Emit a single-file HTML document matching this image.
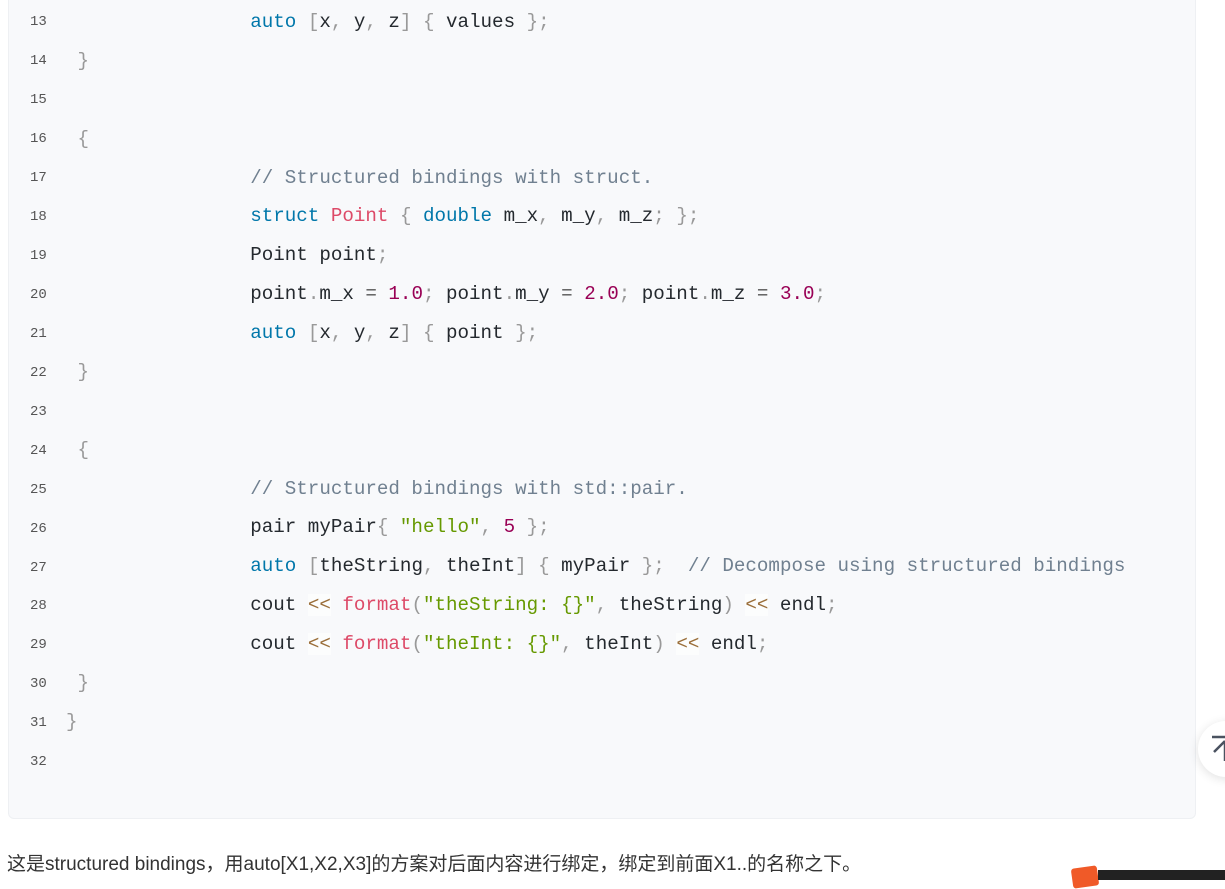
<!DOCTYPE html>
<html><head><meta charset="utf-8"><style>
body{margin:0;width:1225px;height:876px;overflow:hidden;background:#fff;position:relative;font-family:"Liberation Sans","Noto Sans CJK SC",sans-serif}
.blk{position:absolute;left:8px;top:-10px;width:1186px;height:827px;background:#f8f9fb;border:1px solid #eef0f3;border-radius:6px}
.ln{position:absolute;left:30px;font:14px "Liberation Mono",monospace;color:#555;margin-top:1px}
.cd{position:absolute;left:66px;font:19.2px "Liberation Mono",monospace;color:#24292e;white-space:pre;margin-top:2px}
.k{color:#0077aa}.p{color:#999}.r{color:#dd4a68}.n{color:#990055}.s{color:#669900}.c{color:#708090}.o{color:#9a6e3a;background:rgba(255,255,255,.6)}.e{color:#555}
.txt{position:absolute;left:7px;top:849px;font-size:19px;color:#333;white-space:nowrap}
.btn{position:absolute;left:1198px;top:721px;width:56px;height:56px;border-radius:50%;background:#fff;box-shadow:0 2px 10px rgba(0,0,0,.12)}
</style></head><body>
<div class="blk"></div>
<div class="btn"><svg width="30" height="30" style="position:absolute;left:12px;top:14px"><path d="M2 2H28M15 6V26M15 6L4 17" stroke="#4a5260" stroke-width="2.5" fill="none"/></svg></div>
<div class="ln" style="top:13px">13</div><div class="cd" style="top:9px">                <span class="k">auto</span> <span class="p">[</span>x<span class="p">,</span> y<span class="p">,</span> z<span class="p">]</span> <span class="p">{</span> values <span class="p">};</span></div>
<div class="ln" style="top:52px">14</div><div class="cd" style="top:48px"> <span class="p">}</span></div>
<div class="ln" style="top:91px">15</div>
<div class="ln" style="top:130px">16</div><div class="cd" style="top:126px"> <span class="p">{</span></div>
<div class="ln" style="top:169px">17</div><div class="cd" style="top:165px">                <span class="c">// Structured bindings with struct.</span></div>
<div class="ln" style="top:208px">18</div><div class="cd" style="top:203px">                <span class="k">struct</span> <span class="r">Point</span> <span class="p">{</span> <span class="k">double</span> m_x<span class="p">,</span> m_y<span class="p">,</span> m_z<span class="p">;</span> <span class="p">};</span></div>
<div class="ln" style="top:247px">19</div><div class="cd" style="top:242px">                Point point<span class="p">;</span></div>
<div class="ln" style="top:286px">20</div><div class="cd" style="top:281px">                point<span class="p">.</span>m_x <span class="e">=</span> <span class="n">1.0</span><span class="p">;</span> point<span class="p">.</span>m_y <span class="e">=</span> <span class="n">2.0</span><span class="p">;</span> point<span class="p">.</span>m_z <span class="e">=</span> <span class="n">3.0</span><span class="p">;</span></div>
<div class="ln" style="top:325px">21</div><div class="cd" style="top:320px">                <span class="k">auto</span> <span class="p">[</span>x<span class="p">,</span> y<span class="p">,</span> z<span class="p">]</span> <span class="p">{</span> point <span class="p">};</span></div>
<div class="ln" style="top:364px">22</div><div class="cd" style="top:359px"> <span class="p">}</span></div>
<div class="ln" style="top:403px">23</div>
<div class="ln" style="top:442px">24</div><div class="cd" style="top:437px"> <span class="p">{</span></div>
<div class="ln" style="top:481px">25</div><div class="cd" style="top:476px">                <span class="c">// Structured bindings with std::pair.</span></div>
<div class="ln" style="top:520px">26</div><div class="cd" style="top:514px">                pair myPair<span class="p">{</span> <span class="s">"hello"</span><span class="p">,</span> <span class="n">5</span> <span class="p">};</span></div>
<div class="ln" style="top:559px">27</div><div class="cd" style="top:553px">                <span class="k">auto</span> <span class="p">[</span>theString<span class="p">,</span> theInt<span class="p">]</span> <span class="p">{</span> myPair <span class="p">};</span>  <span class="c">// Decompose using structured bindings</span></div>
<div class="ln" style="top:597px">28</div><div class="cd" style="top:592px">                cout <span class="o">&lt;&lt;</span> <span class="r">format</span><span class="p">(</span><span class="s">"theString: {}"</span><span class="p">,</span> theString<span class="p">)</span> <span class="o">&lt;&lt;</span> endl<span class="p">;</span></div>
<div class="ln" style="top:636px">29</div><div class="cd" style="top:631px">                cout <span class="o">&lt;&lt;</span> <span class="r">format</span><span class="p">(</span><span class="s">"theInt: {}"</span><span class="p">,</span> theInt<span class="p">)</span> <span class="o">&lt;&lt;</span> endl<span class="p">;</span></div>
<div class="ln" style="top:675px">30</div><div class="cd" style="top:670px"> <span class="p">}</span></div>
<div class="ln" style="top:714px">31</div><div class="cd" style="top:709px"><span class="p">}</span></div>
<div class="ln" style="top:753px">32</div>
<div class="txt">这是structured bindings，用auto[X1,X2,X3]的方案对后面内容进行绑定，绑定到前面X1..的名称之下。</div>
<div style="position:absolute;left:1072px;top:867px;width:26px;height:20px;background:#f05a28;border-radius:3px;transform:rotate(-8deg)"></div>
<div style="position:absolute;left:1098px;top:870px;width:130px;height:10px;background:#222"></div>
</body></html>
